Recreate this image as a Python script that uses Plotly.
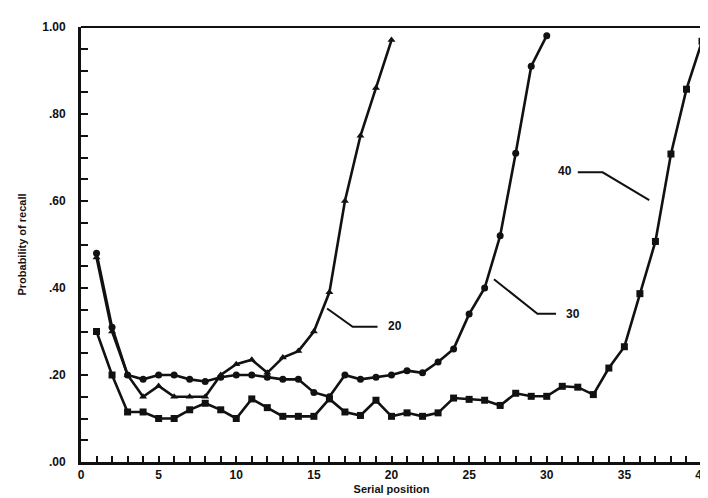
import plotly.graph_objects as go

# Serial position curves: probability of recall for lists of length 20, 30, 40
pos20 = list(range(1, 21))
recall20 = [0.47, 0.30, 0.20, 0.15, 0.175, 0.15, 0.15, 0.15, 0.20, 0.225,
            0.235, 0.205, 0.24, 0.255, 0.30, 0.39, 0.60, 0.75, 0.86, 0.97]

pos30 = list(range(1, 31))
recall30 = [0.48, 0.31, 0.20, 0.19, 0.20, 0.20, 0.19, 0.185, 0.195, 0.20,
            0.20, 0.195, 0.19, 0.19, 0.16, 0.15, 0.20, 0.19, 0.195, 0.20,
            0.21, 0.205, 0.23, 0.26, 0.34, 0.40, 0.52, 0.71, 0.91, 0.98]

pos40 = list(range(1, 41))
recall40 = [0.30, 0.20, 0.115, 0.115, 0.10, 0.10, 0.12, 0.135, 0.12, 0.10,
            0.145, 0.125, 0.105, 0.105, 0.105, 0.145, 0.115, 0.107, 0.142, 0.105,
            0.113, 0.105, 0.113, 0.147, 0.144, 0.142, 0.13, 0.158, 0.151, 0.151,
            0.174, 0.172, 0.155, 0.216, 0.265, 0.387, 0.507, 0.708, 0.857, 0.967]

x_ticks = list(range(0, 41))
x_ticktext = [str(v) if v % 5 == 0 else "" for v in x_ticks]
y_ticks = [round(i * 0.05, 2) for i in range(21)]
y_label_map = {0.0: ".00", 0.2: ".20", 0.4: ".40", 0.6: ".60", 0.8: ".80", 1.0: "1.00"}
y_ticktext = [y_label_map.get(v, "") for v in y_ticks]

FONT = "Liberation Sans, Arial, sans-serif"
BLACK = "#111111"

fig = go.Figure()

def add_series(x, y, symbol, size):
    fig.add_trace(go.Scatter(
        x=x, y=y, mode="lines+markers",
        line=dict(color=BLACK, width=2.6),
        marker=dict(symbol=symbol, size=size, color=BLACK),
        showlegend=False, hoverinfo="x+y",
    ))

add_series(pos40, recall40, "square", 7)
add_series(pos30, recall30, "circle", 7)
add_series(pos20, recall20, "triangle-up", 7)

# Leader lines and labels
leaders = [
    # (xs, ys, label, label_x, label_y)
    ([15.85, 17.5, 19.1], [0.353, 0.311, 0.311], "20", 20.2, 0.312),
    ([26.6, 29.4, 30.6], [0.42, 0.341, 0.341], "30", 31.7, 0.341),
    ([36.6, 33.6, 32.0], [0.602, 0.666, 0.666], "40", 31.2, 0.668),
]
for xs, ys, label, lx, ly in leaders:
    fig.add_trace(go.Scatter(x=xs, y=ys, mode="lines",
                             line=dict(color=BLACK, width=2),
                             showlegend=False, hoverinfo="skip"))
    fig.add_annotation(x=lx, y=ly, text=label, showarrow=False,
                       font=dict(family=FONT, size=12, color=BLACK, weight="bold"),
                       xanchor="center", yanchor="middle")

fig.update_layout(
    width=708, height=498,
    margin=dict(l=73, r=7, t=19, b=44),
    paper_bgcolor="white", plot_bgcolor="white",
    font=dict(family=FONT, size=12, color=BLACK),
    xaxis=dict(
        range=[0, 40], tickmode="array", tickvals=x_ticks, ticktext=x_ticktext,
        ticks="inside", ticklen=6, tickwidth=2, tickcolor=BLACK,
        showline=True, linewidth=3, linecolor=BLACK, showgrid=False, zeroline=False,
        tickfont=dict(family=FONT, size=12, color=BLACK, weight="bold"),
        title=dict(text="Serial position", standoff=4,
                   font=dict(family=FONT, size=11, color=BLACK, weight="bold")),
    ),
    yaxis=dict(
        range=[0, 1.0], tickmode="array", tickvals=y_ticks, ticktext=y_ticktext,
        ticks="inside", ticklen=7, tickwidth=2, tickcolor=BLACK,
        ticklabelstandoff=10,
        showline=True, linewidth=3, linecolor=BLACK, showgrid=False, zeroline=False,
        tickfont=dict(family=FONT, size=12, color=BLACK, weight="bold"),
        title=dict(text="Probability of recall", standoff=14,
                   font=dict(family=FONT, size=11, color=BLACK, weight="bold")),
    ),
    shapes=[
        dict(type="line", xref="paper", yref="paper", x0=0, x1=1, y0=1, y1=1,
             line=dict(color=BLACK, width=2)),
        dict(type="line", xref="paper", yref="paper", x0=1, x1=1, y0=0, y1=1,
             line=dict(color=BLACK, width=2)),
    ],
)

fig.write_html("out.html")
